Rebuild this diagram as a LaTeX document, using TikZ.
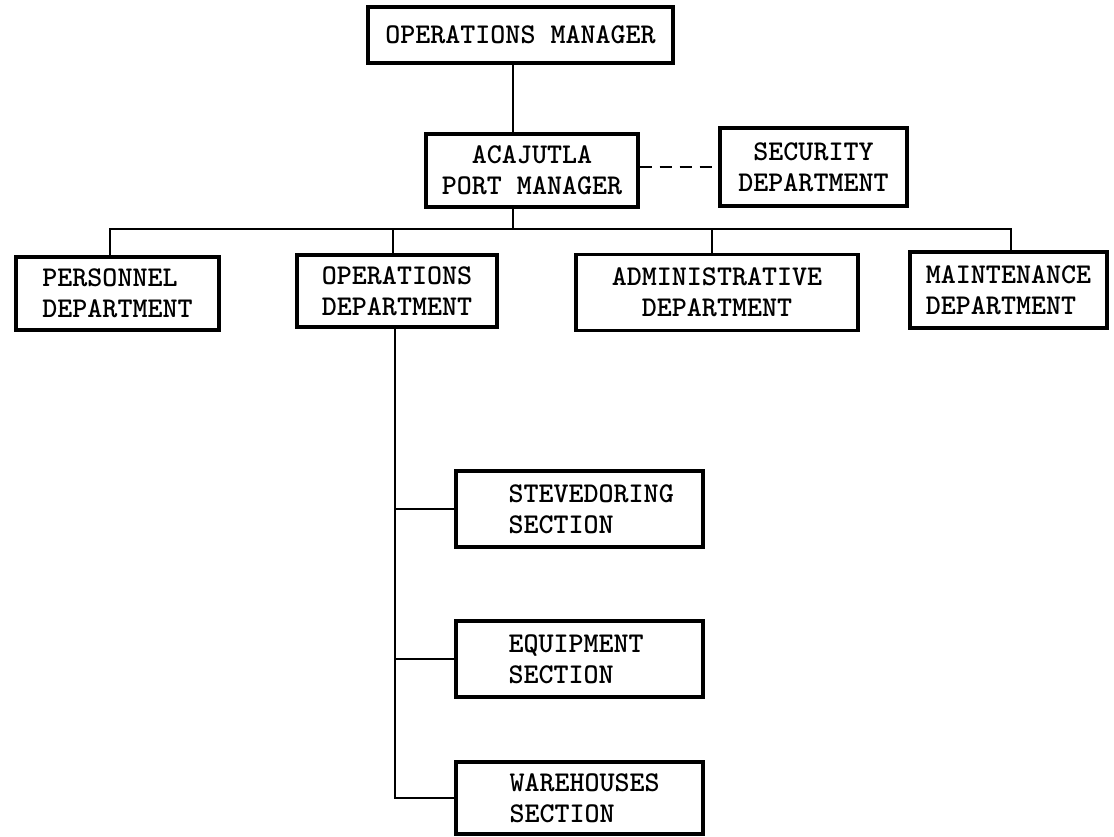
\documentclass[tikz,border=0pt]{standalone}
\begin{document}
\begin{tikzpicture}[x=1pt,y=-1pt,
  lab/.style={font=\ttfamily\bfseries\fontsize{28.6}{31}\selectfont},
  box/.style={draw=black, line width=3.2pt, rectangle, inner sep=0pt, lab, align=center},
  boxl/.style={box, align=left},
  txt/.style={inner sep=0pt, lab, align=left},
  conn/.style={line width=2.1pt, line cap=rect},
  dconn/.style={line width=2.1pt, dash pattern=on 12pt off 8pt}]
\useasboundingbox (0,0) rectangle (1114,837);
\fill[white] (0,0) rectangle (1114,837);

% top levels
\node[box, minimum width=305pt, minimum height=56pt] (om) at (520.5,35) {OPERATIONS MANAGER};
\node[box, minimum width=212pt, minimum height=73pt] (aca) at (532,170.5) {ACAJUTLA\\PORT MANAGER};
\node[box, minimum width=187pt, minimum height=78pt] (sec) at (813.5,167) {SECURITY\\DEPARTMENT};

% departments
\node[boxl, minimum width=203pt, minimum height=73pt] (per) at (117.5,293.5) {PERSONNEL\\DEPARTMENT};
\node[box, minimum width=200pt, minimum height=72pt] (ops) at (397,291) {OPERATIONS\\DEPARTMENT};
\node[box, minimum width=282pt, minimum height=76pt] (adm) at (717,292.5) {ADMINISTRATIVE\\DEPARTMENT};
\node[boxl, minimum width=197pt, minimum height=76pt] (mnt) at (1008.5,290) {MAINTENANCE\\DEPARTMENT};

% sections
\node[box, minimum width=247pt, minimum height=76pt] (stv) at (579.5,509) {};
\node[box, minimum width=247pt, minimum height=76pt] (eqp) at (579.5,659) {};
\node[box, minimum width=247pt, minimum height=72pt] (wrh) at (579.5,798) {};
\node[txt, anchor=west] (stvt) at ([xshift=54pt]stv.west) {STEVEDORING\\SECTION};
\node[txt, anchor=west] (eqpt) at ([xshift=54pt]eqp.west) {EQUIPMENT\\SECTION};
\node[txt, anchor=west] (wrht) at ([xshift=55pt]wrh.west) {WAREHOUSES\\SECTION};

% connector coordinates
\coordinate (t1) at (513,229);
\coordinate (bl) at (110,229);
\coordinate (bo) at (393,229);
\coordinate (ba) at (712,229);
\coordinate (bm) at (1011,229);
\coordinate (tr) at (395,327);

\draw[conn] (t1 |- om.south) -- (t1 |- aca.north);
\draw[conn] (t1 |- aca.south) -- (t1);
\draw[dconn] (aca.east |- sec.west) -- (sec.west);
\draw[conn] (bl |- per.north) -- (bl) -- (bm) -- (bm |- mnt.north);
\draw[conn] (bo) -- (bo |- ops.north);
\draw[conn] (ba) -- (ba |- adm.north);
\draw[conn] (tr |- ops.south) -- (tr |- wrh.west) -- (wrh.west);
\draw[conn] (tr |- stv.west) -- (stv.west);
\draw[conn] (tr |- eqp.west) -- (eqp.west);
\end{tikzpicture}
\end{document}
